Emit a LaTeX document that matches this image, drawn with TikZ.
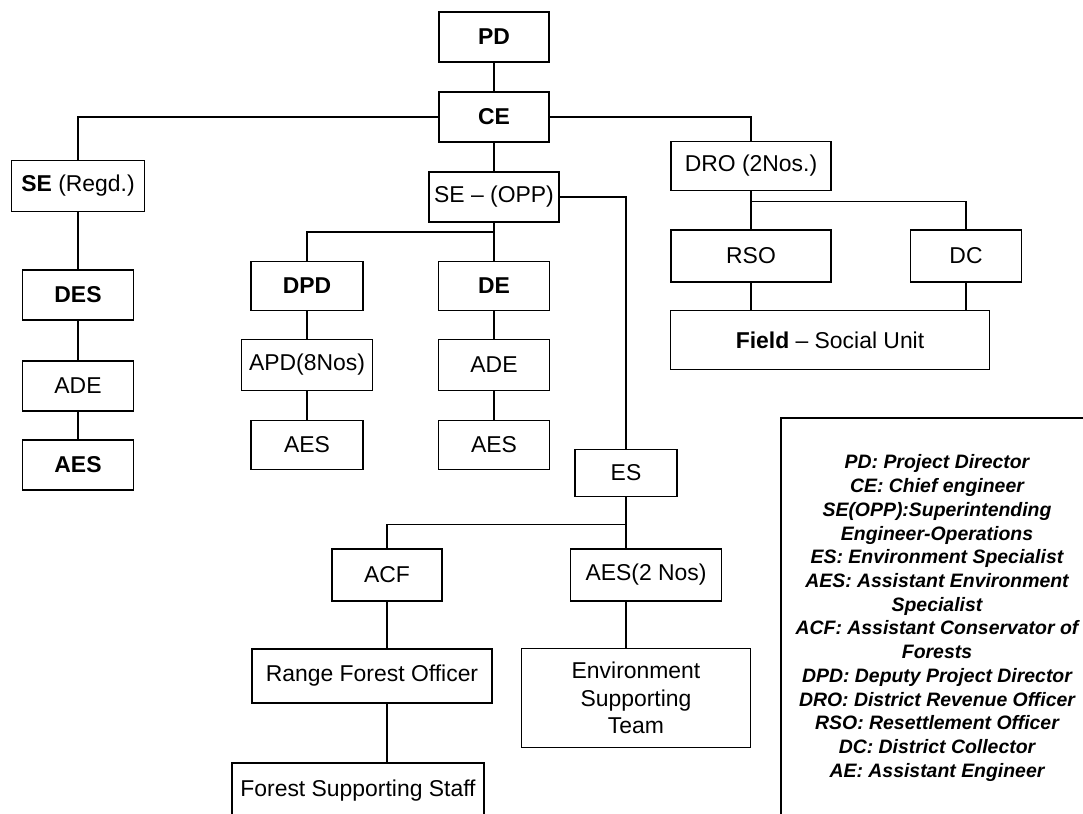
\documentclass[tikz,border=0pt]{standalone}
\usepackage{fontspec}
\setmainfont{Liberation Sans}
\usetikzlibrary{positioning}

\begin{document}
\begin{tikzpicture}[
  x=1bp,y=-1bp,
  post/.style={draw,line width=1.8bp,minimum width=#1,minimum height=50bp,inner sep=1bp,align=center,font=\fontsize{23}{27.5}\selectfont},
  post/.default=111bp,
  link/.style={line width=1.5bp},
  trunk/.style={line width=2.6bp},
  legendbox/.style={draw,line width=1.8bp,minimum width=312bp,minimum height=400bp,align=center,font=\fontsize{19.5}{23.8}\selectfont\bfseries\itshape}
]
  \useasboundingbox (0,0) rectangle (1083,814);
  \clip (0,0) rectangle (1083,814);

  % top of the chart
  \node[post=110bp] (pd) at (494,37) {\textbf{PD}};
  \node[post=110bp] (ce) at (494,117) {\textbf{CE}};
  \node[post=133bp,minimum height=51bp] (seregd) at (78,186) {\textbf{SE} (Regd.)};
  \node[post=130bp] (seopp) at (494,197) {SE – (OPP)};
  \node[post=160bp,minimum height=49bp] (dro) at (751,166) {DRO (2Nos.)};

  % social side
  \node[post=160bp,minimum height=52bp] (rso) at (751,256) {RSO};
  \node[post,minimum height=52bp] (dc) at (966,256) {DC};
  \node[post=319bp,minimum height=59bp] (field) at (830,340) {\textbf{Field} – Social Unit};

  % regional column
  \node[post] (des) at (78,295) {\textbf{DES}};
  \node[post] (ade1) at (78,386) {ADE};
  \node[post] (aes1) at (78,465) {\textbf{AES}};

  % operations columns
  \node[post=112bp,minimum height=49bp] (dpd) at (307,286) {\textbf{DPD}};
  \node[post=131bp,minimum height=51bp] (apd) at (307,365) {APD(8Nos)};
  \node[post=112bp,minimum height=49bp] (aes2) at (307,445) {AES};
  \node[post,minimum height=49bp] (de) at (494,286) {\textbf{DE}};
  \node[post,minimum height=51bp] (ade2) at (494,365) {ADE};
  \node[post,minimum height=49bp] (aes3) at (494,445) {AES};

  % environment side
  \node[post=102bp,minimum height=47bp] (es) at (626,473) {ES};
  \node[post=110bp,minimum height=52bp] (acf) at (387,575) {ACF};
  \node[post=151bp,minimum height=52bp] (aes4) at (646,575) {AES(2 Nos)};
  \node[post=240bp,minimum height=54bp] (rfo) at (372,676) {Range Forest Officer};
  \node[post=229bp,minimum height=99bp] (env) at (636,698) {Environment\\Supporting\\Team};
  \node[post=252bp,minimum height=56bp] (fss) at (358,791) {Forest Supporting Staff};

  \node[legendbox] (legend) at (937,618) {PD: Project Director\\CE: Chief engineer\\SE(OPP):Superintending\\Engineer-Operations\\ES: Environment Specialist\\AES: Assistant Environment\\Specialist\\ACF: Assistant Conservator of\\Forests\\DPD: Deputy Project Director\\DRO: District Revenue Officer\\RSO: Resettlement Officer\\DC: District Collector\\AE: Assistant Engineer};

  \draw[trunk] (pd) -- (ce);
  \draw[link] (ce.west) -| (seregd.north);
  \draw[link] (ce.east) -| (dro.north);
  \draw[trunk] (ce) -- (seopp);
  \draw[link] (seopp.south) ++(0,9) -| (dpd.north);
  \draw[trunk] (seopp) -- (de) -- (ade2) -- (aes3);
  \draw[link] (seopp.east) -| (es.north);

  \draw[link] (dro) -- (rso);
  \draw[link] (dro.south) ++(0,10) -| (dc.north);
  \draw[link] (rso) -- (rso |- field.north);
  \draw[link] (dc) -- (dc |- field.north);

  \draw[link] (seregd) -- (des) -- (ade1) -- (aes1);
  \draw[link] (dpd) -- (apd) -- (aes2);

  \draw[link] (es) -- (es |- aes4.north);
  \draw[link] (es.south) ++(0,27) -| (acf.north);
  \draw[link] (acf) -- (acf |- rfo.north);
  \draw[link] (acf |- rfo.south) -- (acf |- fss.north);
  \draw[link] (es |- aes4.south) -- (es |- env.north);
\end{tikzpicture}
\end{document}
